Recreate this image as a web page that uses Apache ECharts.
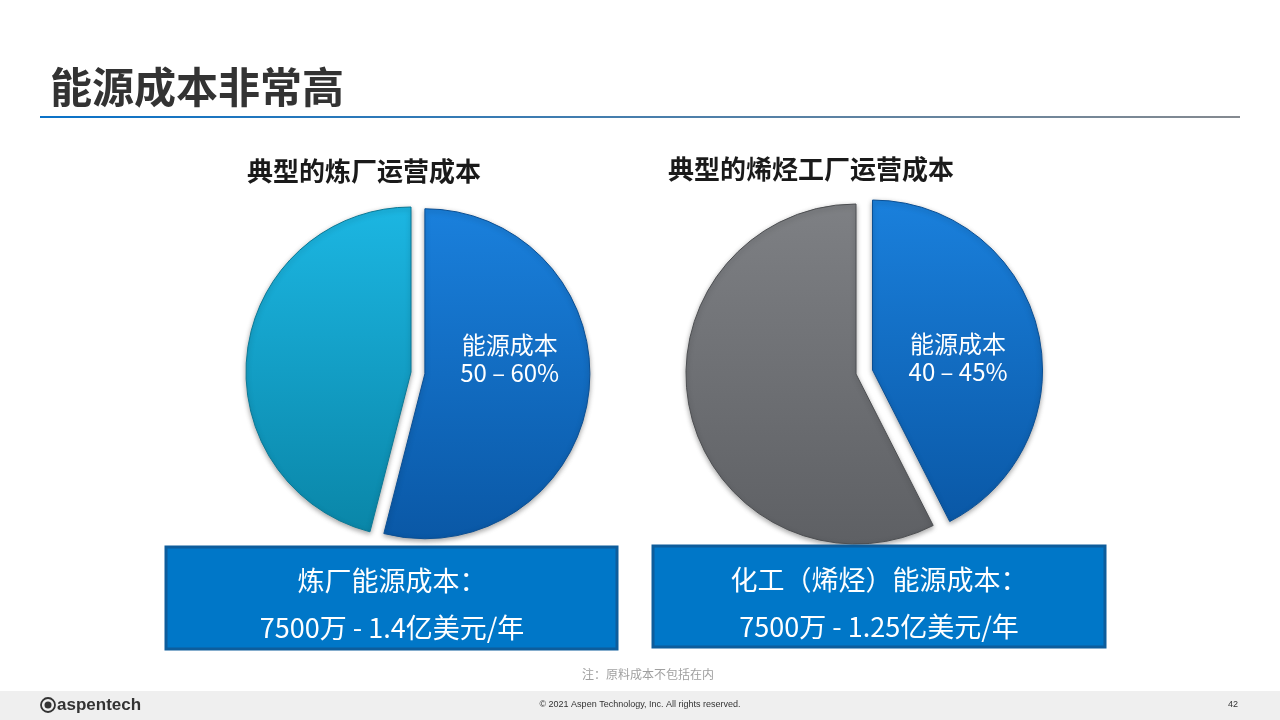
<!DOCTYPE html>
<html>
<head>
<meta charset="utf-8">
<script src="https://cdn.jsdelivr.net/npm/echarts@6/dist/echarts.min.js"></script>
<style>
html,body{margin:0;padding:0;background:#fff;}
#chart{width:1280px;height:720px;}
</style>
</head>
<body>
<div id="chart"></div>
<script>
// ---- data ----
const pageTitle = '能源成本非常高';
const leftTitle = '典型的炼厂运营成本';
const rightTitle = '典型的烯烃工厂运营成本';
const leftCategories = ['能源成本', '其他成本'];
const leftValues = [54, 46];
const leftEnergyLabel = '50 – 60%';
const rightCategories = ['能源成本', '其他成本'];
const rightValues = [42.5, 57.5];
const rightEnergyLabel = '40 – 45%';
const leftBoxLines = ['炼厂能源成本：', '7500万 - 1.4亿美元/年'];
const rightBoxLines = ['化工（烯烃）能源成本：', '7500万 - 1.25亿美元/年'];
const noteText = '注：原料成本不包括在内';
const footerText = '© 2021 Aspen Technology, Inc. All rights reserved.';
const pageNumber = '42';

const CJK = '"Noto Sans CJK SC", "Noto Sans", sans-serif';
const grad = (a, b) => new echarts.graphic.LinearGradient(0, 0, 0, 1, [{offset: 0, color: a}, {offset: 1, color: b}]);

function sliceStyle(top, bottom, border) {
  return {
    color: grad(top, bottom),
    borderColor: border,
    borderWidth: 1,
    shadowBlur: 5,
    shadowColor: 'rgba(0,0,0,0.35)',
    shadowOffsetY: 2
  };
}

function pieSeries(center, radius, offset, cats, vals, energyLabel, gapTop, gapBottom, otherTop, otherBottom, otherBorder) {
  const blue = sliceStyle('#1a80dc', '#0a58a6', '#0a4f94');
  const other = sliceStyle(otherTop, otherBottom, otherBorder);
  let fmt = '{t|{b}}\n{t|' + energyLabel + '}';
  if (gapTop) fmt = '{gt| }\n' + fmt;
  if (gapBottom) fmt = fmt + '\n{gb| }';
  return {
    type: 'pie',
    center: center,
    radius: radius,
    startAngle: 90,
    clockwise: true,
    selectedMode: 'multiple',
    selectedOffset: offset,
    silent: true,
    animation: false,
    labelLine: {show: false},
    emphasis: {disabled: true},
    data: [
      {
        name: cats[0], value: vals[0], selected: true,
        itemStyle: blue,
        select: {itemStyle: blue},
        label: {
          show: true, position: 'inside',
          formatter: fmt,
          color: '#fff', fontSize: 24, lineHeight: 28,
          fontFamily: CJK,
          rich: {
            t: {color: '#fff', fontSize: 24, lineHeight: 28, fontFamily: CJK},
            gt: {fontSize: 4, lineHeight: gapTop || 1, height: gapTop || 1},
            gb: {fontSize: 4, lineHeight: gapBottom || 1, height: gapBottom || 1}
          }
        }
      },
      {
        name: cats[1], value: vals[1],
        itemStyle: other,
        label: {show: false}
      }
    ]
  };
}

function boxGroup(x, y, w, h, lines, cx) {
  return [
    {
      type: 'rect', shape: {x: x, y: y, width: w, height: h},
      style: {fill: '#0077c8', stroke: '#0d5d9c', lineWidth: 3}, z: 10
    },
    {
      type: 'text', x: cx, y: y + 34, z: 11,
      style: {text: lines[0], fill: '#fff', font: '27px ' + CJK, textAlign: 'center', textVerticalAlign: 'middle'}
    },
    {
      type: 'text', x: cx, y: y + 81, z: 11,
      style: {text: lines[1], fill: '#fff', font: '27px ' + CJK, textAlign: 'center', textVerticalAlign: 'middle'}
    }
  ];
}

const chart = echarts.init(document.getElementById('chart'));
chart.setOption({
  backgroundColor: '#ffffff',
  animation: false,
  graphic: [
    {type: 'text', x: 50, y: 87, style: {text: pageTitle, fill: '#333333', font: 'bold 42px ' + CJK, textVerticalAlign: 'middle'}},
    {type: 'rect', shape: {x: 40, y: 116, width: 1200, height: 2},
      style: {fill: new echarts.graphic.LinearGradient(0, 0, 1, 0, [{offset: 0, color: '#0a72c8'}, {offset: 1, color: '#858a90'}])}},
    {type: 'text', x: 364, y: 171, style: {text: leftTitle, fill: '#1a1a1a', font: 'bold 26px ' + CJK, textAlign: 'center', textVerticalAlign: 'middle'}},
    {type: 'text', x: 811, y: 169, style: {text: rightTitle, fill: '#1a1a1a', font: 'bold 26px ' + CJK, textAlign: 'center', textVerticalAlign: 'middle'}},
    ...boxGroup(166, 547, 451, 102, leftBoxLines, 392),
    ...boxGroup(653, 546, 452, 101, rightBoxLines, 879),
    {type: 'text', x: 648, y: 674, style: {text: noteText, fill: '#a0a0a0', font: '12px ' + CJK, textAlign: 'center', textVerticalAlign: 'middle'}},
    {type: 'rect', shape: {x: 0, y: 691, width: 1280, height: 29}, style: {fill: '#efefef'}},
    {type: 'text', x: 640, y: 705, style: {text: footerText, fill: '#333', font: '9px "Liberation Sans Narrow", "Liberation Sans", sans-serif', textAlign: 'center', textVerticalAlign: 'middle'}},
    {type: 'text', x: 1233, y: 705, style: {text: pageNumber, fill: '#333', font: '9px "Liberation Sans", sans-serif', textAlign: 'center', textVerticalAlign: 'middle'}},
    {type: 'circle', shape: {cx: 48, cy: 705, r: 7}, style: {fill: 'none', stroke: '#333', lineWidth: 1.8}},
    {type: 'circle', shape: {cx: 48, cy: 705, r: 3.5}, style: {fill: '#333'}},
    {type: 'text', x: 57, y: 705, style: {text: 'aspentech', fill: '#333', font: 'bold 17px "Liberation Sans Narrow", "Liberation Sans", sans-serif', textVerticalAlign: 'middle'}}
  ],
  series: [
    pieSeries([411, 372], 165, 14, leftCategories, leftValues, leftEnergyLabel, 0, 52, '#1cb6e2', '#0a86a8', '#0a7996'),
    pieSeries([856, 374], 170, 17, rightCategories, rightValues, rightEnergyLabel, 16, 0, '#7e8084', '#5e6064', '#4d4f52')
  ]
});
</script>
</body>
</html>
